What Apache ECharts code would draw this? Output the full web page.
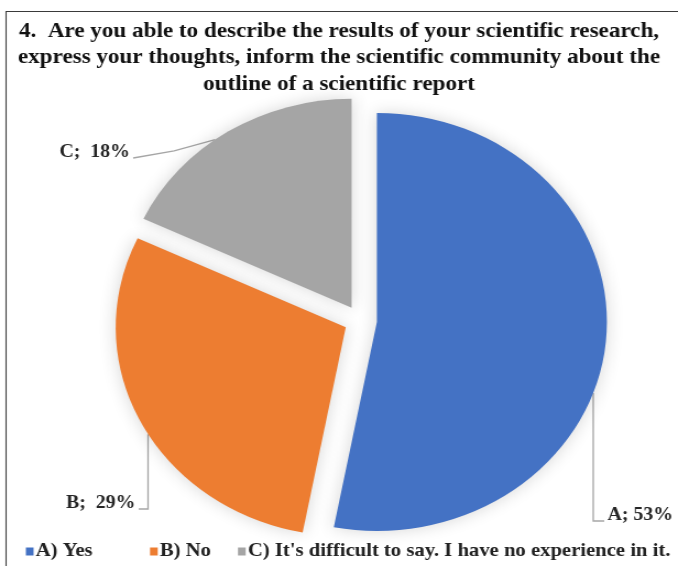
<!DOCTYPE html>
<html>
<head>
<meta charset="utf-8">
<script src="https://cdn.jsdelivr.net/npm/echarts@6/dist/echarts.min.js"></script>
<style>
  html, body { margin: 0; padding: 0; background: #fff; overflow: hidden; }
  #wrap { width: 678px; height: 566px; overflow: hidden; }
  /* the figure is drawn on a narrower canvas and widened to its final size */
  #chart { width: 616px; height: 566px; transform: scaleX(1.1006); transform-origin: 0 0; }
</style>
</head>
<body>
<div id="wrap"><div id="chart"></div></div>
<script>
// Survey answers for question 4
const categories = ['A) Yes', 'B) No', "C) It's difficult to say. I have no experience in it."];
const shortNames = ['A', 'B', 'C'];
const separators = ['; ', ';  ', ';  '];
const values = [53, 29, 18];
const colors = ['#4472C4', '#ED7D31', '#A5A5A5'];
const titleText = '4.  Are you able to describe the results of your scientific research,\nexpress your thoughts, inform the scientific community about the\noutline of a scientific report';

const SERIF = '"Liberation Serif", "Times New Roman", "DejaVu Serif", serif';

// pie geometry (canvas pixels before widening)
const CX = 327.5, CY = 320.5, R = 209, OFFSET = 15;
const legendLefts = [18.5, 131.3, 211.2]; // left edge of each legend entry

// label anchors: x is the text's left edge (align left) or right edge (align right)
const labelSpots = [
  { x: 552, y: 515, align: 'left', lineX: 539 },
  { x: 123, y: 503, align: 'right', lineX: 134.5 },
  { x: 118, y: 152, align: 'right', lineX: null }
];

const total = values.reduce((a, b) => a + b, 0);
function midAngle(i) {
  let cum = 0;
  for (let k = 0; k < i; k++) cum += values[k];
  return (cum + values[i] / 2) / total * 2 * Math.PI;
}
function sliceOffset(i) {
  const a = midAngle(i);
  return [OFFSET * Math.sin(a), -OFFSET * Math.cos(a)];
}

const chart = echarts.init(document.getElementById('chart'), null, { renderer: 'canvas' });

const legendTextStyle = {
  fontFamily: SERIF,
  fontWeight: 'bold',
  fontSize: 18.8,
  lineHeight: 18,
  color: '#222222',
  padding: [0, 0, 0, -3]
};

chart.setOption({
  animation: false,
  backgroundColor: '#ffffff',
  color: colors,
  title: {
    text: titleText,
    left: 'center',
    top: 13,
    textStyle: {
      fontFamily: SERIF,
      fontWeight: 'bold',
      fontSize: 21,
      lineHeight: 26.5,
      color: '#111111'
    }
  },
  legend: categories.map((name, i) => ({
    top: 537,
    left: legendLefts[i],
    icon: 'rect',
    itemWidth: 7,
    itemHeight: 8,
    selectedMode: false,
    textStyle: legendTextStyle,
    data: [name]
  })),
  graphic: [{
    type: 'rect',
    shape: { x: 5.5, y: 11.5, width: 700, height: 600 },
    style: { fill: 'none', stroke: '#3a3a3a', lineWidth: 1.1 },
    silent: true,
    z: 10
  }],
  series: [{
    type: 'pie',
    center: [CX, CY],
    radius: R,
    startAngle: 90,
    clockwise: true,
    selectedMode: 'multiple',
    selectedOffset: OFFSET,
    avoidLabelOverlap: false,
    emphasis: { disabled: true },
    itemStyle: {
      borderWidth: 0,
      shadowBlur: 16,
      shadowColor: 'rgba(0, 0, 0, 0.16)'
    },
    label: {
      show: true,
      position: 'outside',
      overflow: 'none',
      formatter: p => shortNames[p.dataIndex] + separators[p.dataIndex] + values[p.dataIndex] + '%',
      fontFamily: SERIF,
      fontWeight: 'bold',
      fontSize: 18,
      color: '#262626'
    },
    labelLine: {
      show: true,
      lineStyle: { color: '#a6a6a6', width: 1.3 }
    },
    labelLayout: function (params) {
      const i = params.dataIndex;
      const s = labelSpots[i];
      const off = sliceOffset(i);
      const r = params.labelRect;
      const left = s.align === 'left' ? s.x : s.x - r.width;
      const top = s.y - r.height / 2;
      const lineY = s.y + 6;
      const endX = s.align === 'left' ? s.x - 3 : s.x + 3;
      const ax = CX + off[0], ay = CY + off[1];
      let pts;
      if (s.lineX != null) {
        const arcY = ay + Math.sqrt(R * R - Math.pow(s.lineX - ax, 2));
        pts = [[s.lineX, arcY], [s.lineX, lineY], [endX, lineY]];
      } else {
        const a = midAngle(i) - 0.07;
        const p = [ax + R * Math.sin(a), ay - R * Math.cos(a)];
        pts = [p, [(p[0] + endX) / 2, (p[1] + lineY) / 2 + 2], [endX, lineY]];
      }
      return {
        dx: left - (r.x + off[0]),
        dy: top - (r.y + off[1]),
        labelLinePoints: pts.map(q => [q[0] - off[0], q[1] - off[1]])
      };
    },
    data: categories.map((name, i) => ({ name: name, value: values[i], selected: true }))
  }]
});
</script>
</body>
</html>
